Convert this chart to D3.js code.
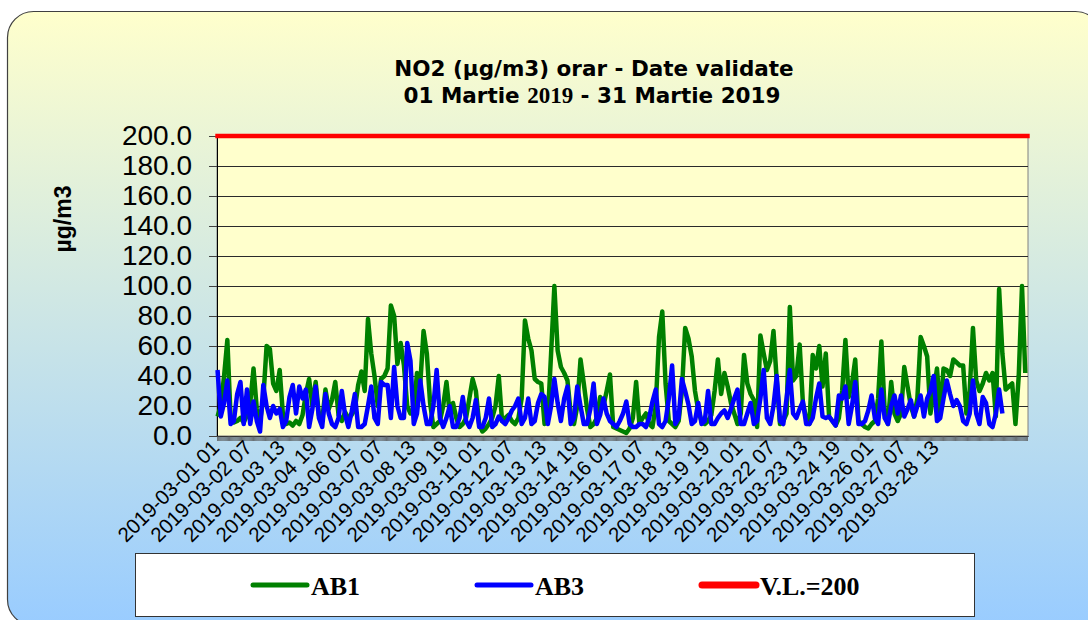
<!DOCTYPE html>
<html>
<head>
<meta charset="utf-8">
<script src="https://cdn.jsdelivr.net/npm/d3@7"></script>
<style>
  html, body { margin: 0; padding: 0; background: #fff; }
  svg { display: block; }
</style>
</head>
<body>
<div id="chart"></div>
<script>
// hourly categories for March 2019, values read every 3 hours
var hourCount = 744;
var stepHours = 3;

// AB1 (ug/m3), one value every 3 hours starting 2019-03-01 01
var ab1 = [
    13,20,40,64,12,9,10,12,9,14,
    22,45,18,10,25,60,58,35,30,44,
    14,8,9,7,10,8,14,28,38,20,
    36,14,10,31,18,24,36,14,10,16,
    12,14,18,34,43,30,78,55,40,20,
    38,40,45,87,80,48,62,47,20,15,
    18,42,35,70,55,22,6,8,10,20,
    36,15,22,12,6,8,12,25,38,30,
    8,3,5,8,12,20,40,10,12,14,
    10,8,12,25,77,65,57,38,36,35,
    8,12,55,100,57,46,42,37,15,8,
    20,51,35,18,6,8,12,26,20,30,
    41,6,5,4,3,2,5,12,36,8,
    12,15,8,6,20,66,83,35,10,8,
    6,10,30,72,65,53,30,17,10,8,
    10,14,30,51,28,42,33,22,15,8,
    15,54,35,28,24,6,67,55,44,50,
    70,37,8,10,15,86,37,40,61,22,
    12,8,54,45,60,33,55,13,10,7,
    12,30,64,26,35,51,10,8,6,5,
    8,10,25,63,17,8,36,15,10,15,
    46,33,20,13,25,66,60,53,15,30,
    45,15,45,44,40,51,49,47,47,15,
    30,72,37,30,35,42,37,42,13,98,
    55,31,33,35,8,40,100,42
];

// AB3 (ug/m3), same sampling, ends earlier
var ab3 = [
    44,13,22,37,8,10,28,36,8,31,
    8,23,10,3,34,20,12,20,15,18,
    6,10,26,34,15,33,25,31,6,18,
    33,12,6,28,15,8,6,12,30,14,
    6,16,28,6,6,8,20,33,12,8,
    36,34,34,12,46,20,12,12,62,50,
    8,15,37,20,8,8,20,44,12,6,
    12,20,6,6,12,26,10,6,12,24,
    6,6,12,25,6,8,13,10,8,12,
    17,20,25,8,12,25,8,10,22,28,
    26,8,20,38,22,10,25,33,8,12,
    33,20,8,8,18,35,8,14,25,15,
    10,8,6,10,15,23,8,6,6,8,
    8,6,12,23,31,8,6,10,25,47,
    8,12,38,30,21,8,10,22,8,10,
    30,8,8,12,15,17,12,18,25,31,
    8,8,15,22,8,10,25,44,12,8,
    20,40,10,8,25,44,15,12,18,23,
    8,8,12,25,35,13,12,13,10,7,
    27,25,33,8,20,36,8,8,10,17,
    27,12,8,31,12,8,20,27,15,27,
    13,18,24,13,20,27,13,25,30,40,
    10,12,25,37,28,20,24,20,10,8,
    15,37,15,8,26,22,8,6,15,31,
    15
];

var limitValue = 200;

var xTickLabels = [
    "2019-03-01 01", "2019-03-02 07", "2019-03-03 13", "2019-03-04 19",
    "2019-03-06 01", "2019-03-07 07", "2019-03-08 13", "2019-03-09 19",
    "2019-03-11 01", "2019-03-12 07", "2019-03-13 13", "2019-03-14 19",
    "2019-03-16 01", "2019-03-17 07", "2019-03-18 13", "2019-03-19 19",
    "2019-03-21 01", "2019-03-22 07", "2019-03-23 13", "2019-03-24 19",
    "2019-03-26 01", "2019-03-27 07", "2019-03-28 13"
];
var labelEvery = 30;

var yTicks = [0, 20, 40, 60, 80, 100, 120, 140, 160, 180, 200];

var legendNames = ["AB1", "AB3", "V.L.=200"];
var seriesColors = ["#008000", "#0000ff", "#ff0000"];

function drawChart() {
    var width = 1088, height = 620;
    var plot = {left: 217, top: 136, right: 1028, bottom: 436};
    var plotW = plot.right - plot.left,
        plotH = plot.bottom - plot.top;

    var svg = d3.select('#chart')
        .append('svg')
        .attr('width', width)
        .attr('height', height);

    // background gradient of the chart frame
    var grad = svg.append('defs')
        .append('linearGradient')
        .attr('id', 'bgGrad')
        .attr('x1', 0).attr('y1', 0)
        .attr('x2', 0).attr('y2', 1);
    grad.append('stop').attr('offset', '0%').attr('stop-color', '#ffffcc');
    grad.append('stop').attr('offset', '100%').attr('stop-color', '#99ccff');

    svg.append('rect')
        .attr('x', 7.5).attr('y', 11.5)
        .attr('width', 1094).attr('height', 614)
        .attr('rx', 26).attr('ry', 26)
        .attr('fill', 'url(#bgGrad)')
        .attr('stroke', '#404040')
        .attr('stroke-width', 1.2);

    // title
    var titleFont = "Tahoma, 'DejaVu Sans', sans-serif";
    svg.append('text')
        .attr('x', 594).attr('y', 76)
        .attr('text-anchor', 'middle')
        .style('font-family', titleFont)
        .style('font-weight', 'bold')
        .style('font-size', '21.5px')
        .text('NO2 (µg/m3) orar - Date validate');

    var t2 = svg.append('text')
        .attr('x', 592).attr('y', 103)
        .attr('text-anchor', 'middle')
        .style('font-family', titleFont)
        .style('font-weight', 'bold')
        .style('font-size', '21.5px');
    t2.append('tspan').text('01 Martie ');
    t2.append('tspan')
        .style('font-family', "'Liberation Serif', 'Times New Roman', serif")
        .style('font-size', '23px')
        .text('2019');
    t2.append('tspan').text(' - 31 Martie 2019');

    var g = svg.append('g')
        .attr('transform', 'translate(' + plot.left + ',' + plot.top + ')');

    g.append('rect')
        .attr('width', plotW).attr('height', plotH)
        .attr('fill', '#ffffcc')
        .attr('stroke', '#808080');

    // scales
    var x = d3.scaleBand()
        .domain(d3.range(hourCount))
        .range([0, plotW]);
    var y = d3.scaleLinear()
        .domain([0, 200])
        .range([plotH, 0]);

    function xc(h) { return x(h) + x.bandwidth() / 2; }

    // gridlines
    g.append('g')
        .attr('class', 'grid')
        .call(d3.axisLeft(y)
            .tickValues(yTicks)
            .tickSize(-plotW)
            .tickFormat('')
            .tickSizeOuter(0))
        .call(function (s) {
            s.select('.domain').remove();
            s.selectAll('line').attr('stroke', '#2a2a2a');
        });

    // y axis
    g.append('g')
        .call(d3.axisLeft(y)
            .tickValues(yTicks)
            .tickSize(8)
            .tickPadding(17)
            .tickSizeOuter(0)
            .tickFormat(d3.format('.1f')))
        .call(function (s) {
            s.select('.domain').attr('stroke', '#000');
            s.selectAll('line').attr('stroke', '#404040');
            s.selectAll('text')
                .style('font-family', "'Liberation Sans', Arial, sans-serif")
                .style('font-size', '28px')
                .attr('fill', '#000');
        });

    // x axis: one small tick per hour
    g.append('g')
        .attr('transform', 'translate(0,' + plotH + ')')
        .call(d3.axisBottom(x)
            .tickValues(d3.range(hourCount))
            .tickSize(5)
            .tickSizeOuter(0)
            .tickFormat(''))
        .call(function (s) {
            s.select('.domain').attr('stroke', '#000');
            s.selectAll('line').attr('stroke', '#555').attr('stroke-width', 0.8);
        });

    // x tick labels every 30 hours
    g.append('g')
        .attr('transform', 'translate(0,' + plotH + ')')
        .call(d3.axisBottom(x)
            .tickValues(xTickLabels.map(function (d, i) { return i * labelEvery; }))
            .tickSize(0)
            .tickFormat(function (d) { return xTickLabels[d / labelEvery]; }))
        .call(function (s) {
            s.select('.domain').remove();
            s.selectAll('text')
                .attr('x', 0).attr('y', 0).attr('dy', 0)
                .attr('transform', 'translate(3,13) rotate(-45)')
                .style('text-anchor', 'end')
                .style('font-family', "'Liberation Sans', Arial, sans-serif")
                .style('font-size', '20.5px')
                .attr('fill', '#000');
        });

    // y axis title
    svg.append('text')
        .attr('transform', 'translate(71,219) rotate(-90)')
        .attr('text-anchor', 'middle')
        .style('font-family', "'Liberation Sans', Arial, sans-serif")
        .style('font-weight', 'bold')
        .style('font-size', '23px')
        .text('µg/m3');

    // series
    var line = d3.line()
        .x(function (d, i) { return xc(i * stepHours); })
        .y(function (d) { return y(d); });

    g.append('path')
        .datum(ab1)
        .attr('d', line)
        .attr('fill', 'none')
        .attr('stroke', seriesColors[0])
        .attr('stroke-width', 4.5)
        .attr('stroke-linejoin', 'round');

    g.append('path')
        .datum(ab3)
        .attr('d', line)
        .attr('fill', 'none')
        .attr('stroke', seriesColors[1])
        .attr('stroke-width', 4.5)
        .attr('stroke-linejoin', 'round');

    // limit value
    g.append('line')
        .attr('x1', xc(0)).attr('x2', xc(hourCount - 1))
        .attr('y1', y(limitValue)).attr('y2', y(limitValue))
        .attr('stroke', seriesColors[2])
        .attr('stroke-width', 4.5)
        .attr('stroke-linecap', 'square');

    // legend
    var legend = svg.append('g');
    legend.append('rect')
        .attr('x', 135.5).attr('y', 553.5)
        .attr('width', 839).attr('height', 63)
        .attr('fill', '#fff')
        .attr('stroke', '#333');

    var itemX = [253, 477, 702];
    var strokeW = [5, 5, 7];
    legendNames.forEach(function (name, i) {
        legend.append('line')
            .attr('x1', itemX[i]).attr('x2', itemX[i] + 54)
            .attr('y1', 585).attr('y2', 585)
            .attr('stroke', seriesColors[i])
            .attr('stroke-width', strokeW[i])
            .attr('stroke-linecap', 'round');
        legend.append('text')
            .attr('x', itemX[i] + 58).attr('y', 595)
            .style('font-family', "'Liberation Serif', 'Times New Roman', serif")
            .style('font-weight', 'bold')
            .style('font-size', '26px')
            .text(name);
    });
}

drawChart();
</script>
</body>
</html>
